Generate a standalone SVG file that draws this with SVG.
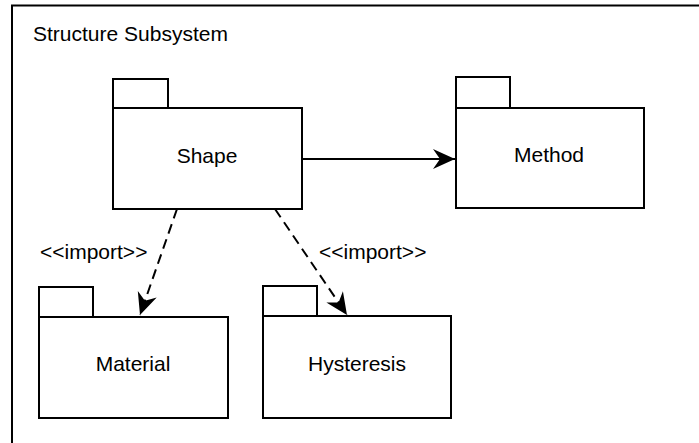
<svg xmlns="http://www.w3.org/2000/svg" width="699" height="443" viewBox="0 0 699 443">
  <style>
    .frame { fill: none; stroke: #000; stroke-width: 2; }
    .pkg { fill: #fff; stroke: #000; stroke-width: 2; }
    .lbl { font-family: "Liberation Sans", Arial, sans-serif; font-size: 21px; fill: #000; }
    .mid { text-anchor: middle; }
    .edge { fill: none; stroke: #000; stroke-width: 2; }
    .dash { stroke-dasharray: 10 6; }
  </style>
  <defs>
    <marker id="head" markerUnits="userSpaceOnUse" markerWidth="26" markerHeight="24" viewBox="-24 -12 26 24" refX="0" refY="0" orient="auto">
      <path d="M0,0 L-22,-10 L-15,0 L-22,10 Z" fill="#000"/>
    </marker>
  </defs>

  <rect width="699" height="443" fill="#fff"/>

  <!-- subsystem frame (open at right and bottom) -->
  <g id="subsystem">
    <path class="frame" d="M12,443 V5.5 H700"/>
    <text class="lbl" x="33" y="41">Structure Subsystem</text>
  </g>

  <g id="shape">
    <rect class="pkg" x="113" y="79" width="55" height="29"/>
    <rect class="pkg" x="113" y="108" width="189" height="101"/>
    <text class="lbl mid" x="207" y="163">Shape</text>
  </g>

  <g id="method">
    <rect class="pkg" x="456" y="77" width="54" height="31"/>
    <rect class="pkg" x="456" y="108" width="188" height="100"/>
    <text class="lbl mid" x="549" y="162">Method</text>
  </g>

  <g id="material">
    <rect class="pkg" x="39" y="287" width="54" height="30"/>
    <rect class="pkg" x="39" y="317" width="189" height="101"/>
    <text class="lbl mid" x="133" y="371">Material</text>
  </g>

  <g id="hysteresis">
    <rect class="pkg" x="263" y="286" width="54" height="30"/>
    <rect class="pkg" x="263" y="316" width="188" height="102"/>
    <text class="lbl mid" x="357" y="371">Hysteresis</text>
  </g>

  <g id="connectors">
    <line class="edge" x1="302" y1="159" x2="455" y2="159" marker-end="url(#head)"/>
    <line class="edge dash" x1="177" y1="209" x2="140" y2="315" marker-end="url(#head)"/>
    <line class="edge dash" x1="275" y1="209" x2="347" y2="315" marker-end="url(#head)"/>
    <text class="lbl" x="40" y="259">&lt;&lt;import&gt;&gt;</text>
    <text class="lbl" x="319" y="259">&lt;&lt;import&gt;&gt;</text>
  </g>
</svg>
